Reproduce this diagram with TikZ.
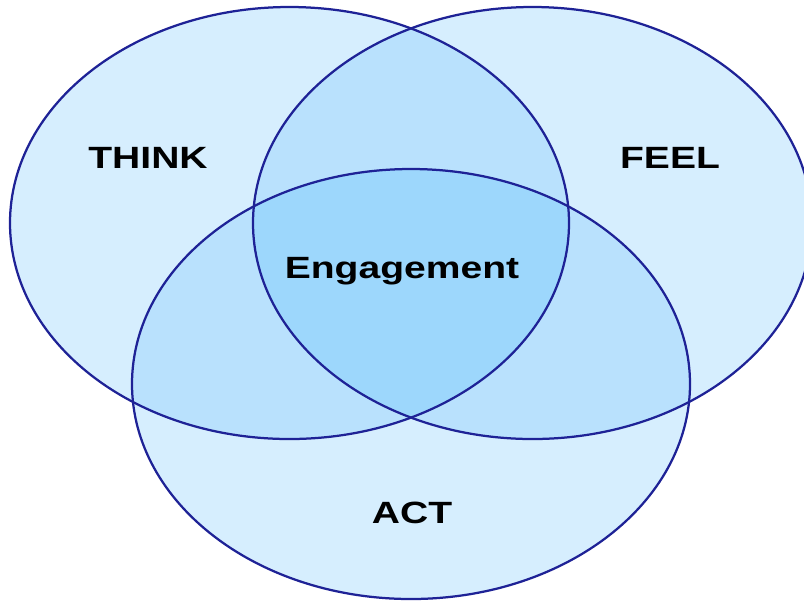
\documentclass[tikz,border=0pt]{standalone}
\usepackage{fontspec}
\setmainfont{Liberation Sans}

\definecolor{ringfill}{RGB}{214,238,254}
\definecolor{pairfill}{RGB}{185,225,253}
\definecolor{corefill}{RGB}{157,215,252}
\definecolor{ringline}{RGB}{30,34,150}

\begin{document}
\begin{tikzpicture}[x=0.02cm, y=-0.02cm,
  word/.style={font=\bfseries\fontsize{17.5}{20}\selectfont, xscale=1.27, inner sep=0pt, anchor=base},
  rim/.style={draw=ringline, line width=0.045cm}]
\useasboundingbox (0,0) rectangle (804,600);
\def\think{(289.5,223) ellipse [x radius=279.5, y radius=216]}
\def\feel{(532.5,223) ellipse [x radius=279.5, y radius=216]}
\def\act{(411,384) ellipse [x radius=279, y radius=215]}

% single sets
\fill[ringfill] \think;
\fill[ringfill] \feel;
\fill[ringfill] \act;
% overlaps of two
\begin{scope}
  \clip \think;
  \fill[pairfill] \feel;
  \fill[pairfill] \act;
\end{scope}
\begin{scope}
  \clip \feel;
  \fill[pairfill] \act;
\end{scope}
% overlap of all three
\begin{scope}
  \clip \think;
  \clip \feel;
  \fill[corefill] \act;
\end{scope}
% outlines
\draw[rim] \think;
\draw[rim] \feel;
\draw[rim] \act;

\node[word] (think) at (148,168) {THINK};
\node[word] (feel) at (670,168) {FEEL};
\node[word] (engage) at (402,278) {Engagement};
\node[word] (act) at (412,523) {ACT};
\end{tikzpicture}
\end{document}
